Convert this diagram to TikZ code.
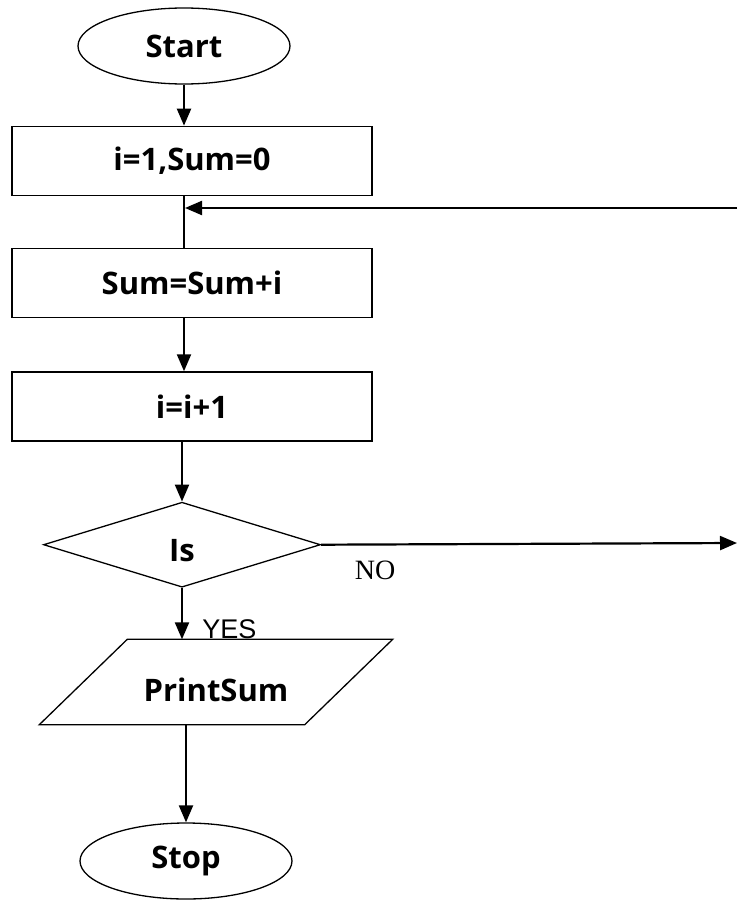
\documentclass[tikz,border=0pt]{standalone}
\usepackage{fontspec}
\setsansfont{Open Sans}
\newfontfamily\yesfont{Liberation Sans}
\newfontfamily\nofont{Liberation Serif}
\usetikzlibrary{positioning,shapes.geometric,arrows.meta}

\begin{document}
\begin{tikzpicture}[
    x=1pt, y=-1pt,
    node distance=50pt,
    label/.style={font=\fontsize{31}{34}\selectfont\sffamily\bfseries},
    block/.style={draw, rectangle, line width=1.3pt, minimum height=69pt, minimum width=360pt, label},
    term/.style={draw, ellipse, line width=1.3pt, minimum height=76pt, minimum width=212pt, label},
    decide/.style={draw, diamond, line width=1.3pt, inner sep=0pt, minimum height=85pt, minimum width=277pt, label},
    arrow/.style={line width=2.2pt,->,>={Triangle[length=17pt,width=14pt]}}
]
  \useasboundingbox (0,0) rectangle (737,905);

  % Nodes
  \node (start) [term] at (184,46) {Start};
  \node (init) [block, below=41pt of start.south, anchor=north, xshift=8pt] {i=1,Sum=0};
  \node (add) [block, below=52pt of init] {Sum=Sum+i};
  \node (inc) [block, below=53pt of add] {i=i+1};
  \node (test) [decide, below=60pt of inc.south -| start, anchor=north, xshift=-2pt, text height=34pt, text depth=0pt] {Is};
  \node (print) [label, minimum width=265pt, minimum height=85pt, text height=38pt, text depth=0pt] at (216,682) {PrintSum};
  \draw [line width=1.3pt] ([xshift=44pt]print.north west) -- ([xshift=44pt]print.north east)
    -- ([xshift=-44pt]print.south east) -- ([xshift=-44pt]print.south west) -- cycle;
  \node (stop) [term] at (186,861) {Stop};

  % loop ends at the right border
  \coordinate (back) at (737,208);
  \coordinate (noend) at (737,543);

  % Arrows
  \draw [arrow] (start) -- (start |- init.north);
  \draw [line width=2.2pt] (init.south -| start) -- (add.north -| start);
  \draw [arrow] (back) -- ([xshift=1pt]back -| start);
  \draw [arrow] (add.south -| start) -- (inc.north -| start);
  \draw [arrow] (inc.south -| test) -- (test);
  \draw [arrow] (test) -- node[right=16pt, pos=0.8, font=\fontsize{27}{30}\selectfont\yesfont] {YES} (test |- print.north);
  \draw [arrow] (test.east) -- node[below=12pt, pos=0.13, font=\fontsize{28}{30}\selectfont\nofont] {NO} (noend);
  \draw [arrow] (print.south -| stop) -- (stop);
\end{tikzpicture}
\end{document}
